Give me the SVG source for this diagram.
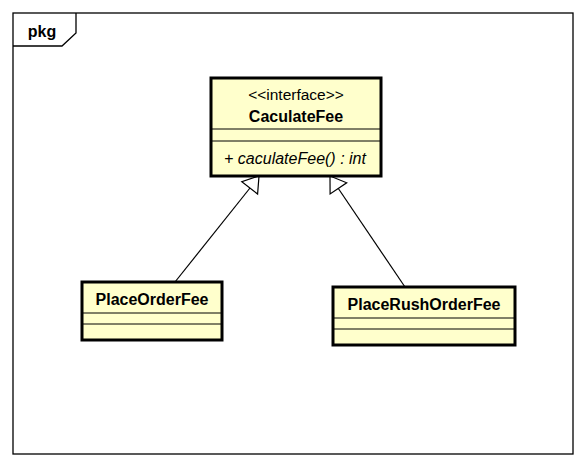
<svg xmlns="http://www.w3.org/2000/svg" width="586" height="468" viewBox="0 0 586 468">
<style>
.frame{fill:none;stroke:#000;stroke-width:1.3}
.box{fill:#FFFFCC;stroke:#000;stroke-width:3}
.sep{stroke:#000;stroke-width:1}
.t{font-family:"Liberation Sans",Arial,sans-serif;font-size:15.5px;fill:#000;text-anchor:middle}
.b{font-weight:bold;font-size:16px}
.i{font-style:italic;font-size:16px}
.conn{stroke:#000;stroke-width:1.2;fill:none}
.head{fill:#fff;stroke:#000;stroke-width:1.2}
</style>
<rect x="0" y="0" width="586" height="468" fill="#fff"/>
<g id="frame">
<rect class="frame" x="13" y="13" width="560" height="441"/>
<path class="frame" d="M13,46 L62,46 L76,33 L76,13"/>
<text class="t b" x="42" y="37">pkg</text>
</g>
<g id="connectors">
<line class="conn" x1="175" y1="282" x2="250" y2="188"/>
<polygon class="head" points="259,176 241.8,181.6 257.6,194"/>
<line class="conn" x1="405" y1="287" x2="338" y2="188"/>
<polygon class="head" points="330,176 346.7,182.8 330.1,194"/>
</g>
<g id="CaculateFee">
<rect class="box" x="211" y="78" width="170" height="98"/>
<line class="sep" x1="211" y1="129" x2="381" y2="129"/>
<line class="sep" x1="211" y1="141" x2="381" y2="141"/>
<text class="t" x="296" y="100">&lt;&lt;interface&gt;&gt;</text>
<text class="t b" x="296" y="122">CaculateFee</text>
<text class="t i" x="295" y="164">+ caculateFee() : int</text>
</g>
<g id="PlaceOrderFee">
<rect class="box" x="82" y="282" width="140" height="58"/>
<line class="sep" x1="82" y1="313" x2="222" y2="313"/>
<line class="sep" x1="82" y1="324" x2="222" y2="324"/>
<text class="t b" x="152" y="305">PlaceOrderFee</text>
</g>
<g id="PlaceRushOrderFee">
<rect class="box" x="333" y="287" width="182" height="58"/>
<line class="sep" x1="333" y1="318" x2="515" y2="318"/>
<line class="sep" x1="333" y1="329" x2="515" y2="329"/>
<text class="t b" x="424" y="310">PlaceRushOrderFee</text>
</g>
</svg>
